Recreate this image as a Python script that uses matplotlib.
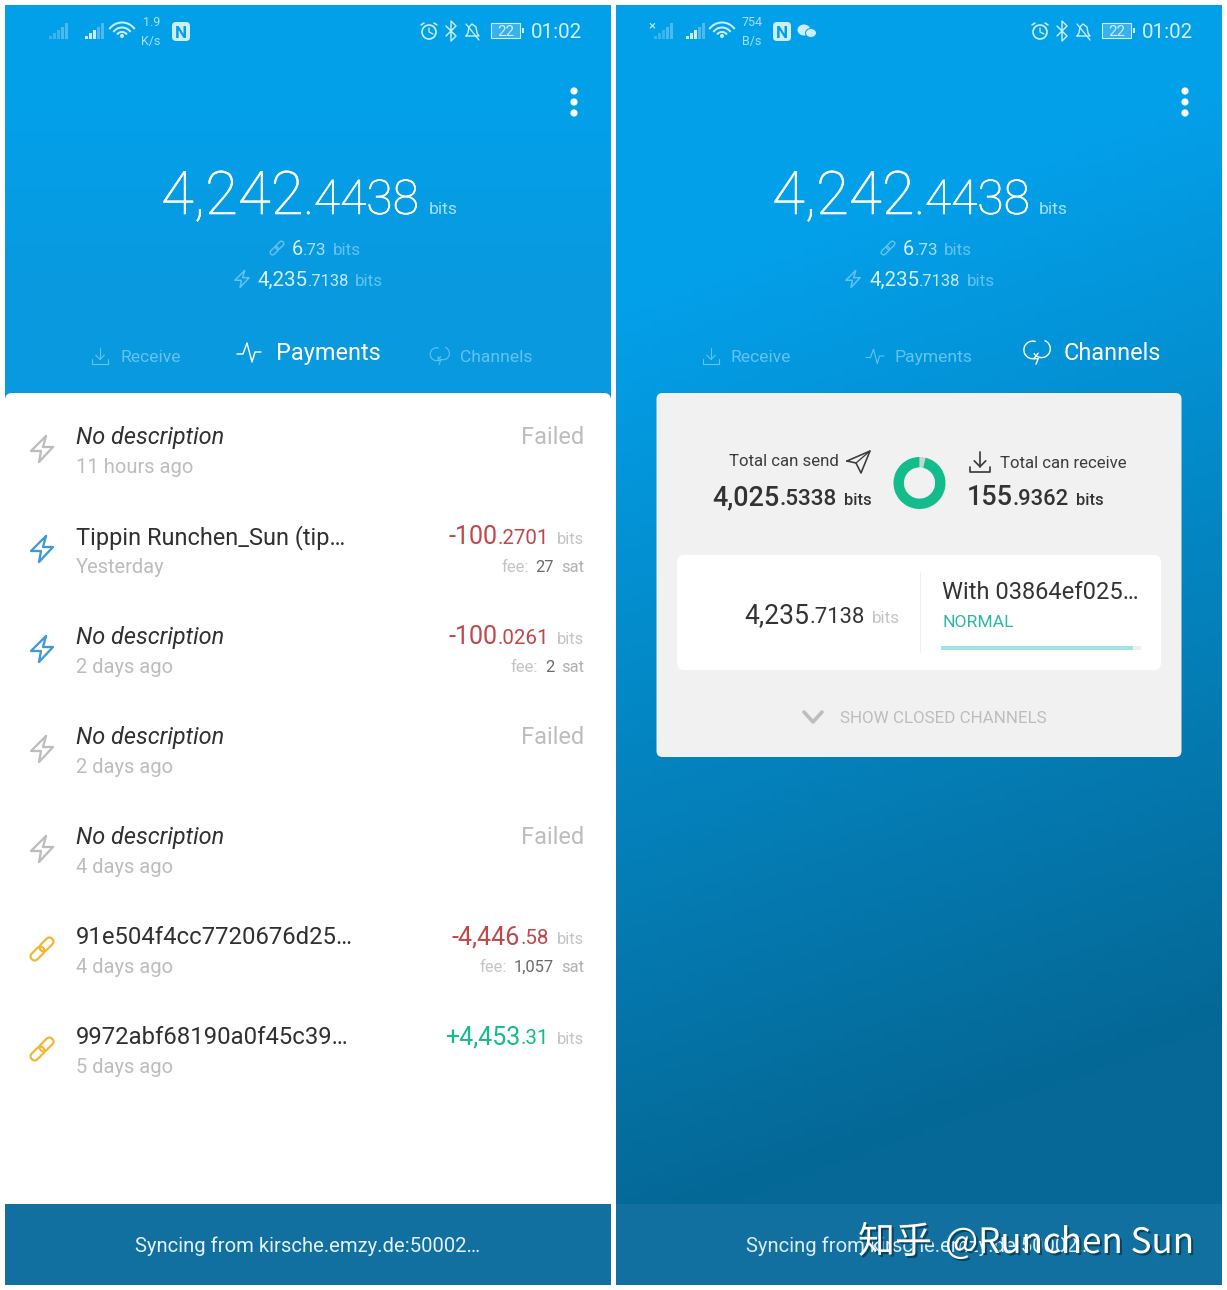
import numpy as np
import matplotlib
matplotlib.use("Agg")
import matplotlib.pyplot as plt
from matplotlib.patches import FancyBboxPatch, Rectangle, Circle, Arc, Polygon, Ellipse
from matplotlib.transforms import Affine2D
import matplotlib.patheffects as pe

plt.rcParams['font.family'] = ['Roboto', 'DejaVu Sans']

# ---- data ----
balance_whole = "4,242"
balance_frac = ".4438"
onchain_whole, onchain_frac = "6", ".73"
lightning_whole, lightning_frac = "4,235", ".7138"
can_send = [4025.5338]
can_receive = [155.9362]
send_whole, send_frac = "4,025", ".5338"
recv_whole, recv_frac = "155", ".9362"
channel_label = "With 03864ef025…"
channel_status = "NORMAL"
channel_fill = [0.96]
tab_labels = ["Receive", "Payments", "Channels"]
tx_titles = ["No description", "Tippin Runchen_Sun (tip…", "No description", "No description",
             "No description", "91e504f4cc7720676d25…", "9972abf68190a0f45c39…"]
tx_italic = [True, False, True, True, True, False, False]
tx_times = ["11 hours ago", "Yesterday", "2 days ago", "2 days ago", "4 days ago", "4 days ago", "5 days ago"]
tx_whole = [None, "-100", "-100", None, None, "-4,446", "+4,453"]
tx_frac = [None, ".2701", ".0261", None, None, ".58", ".31"]
tx_fee = [None, "27", "2", None, None, "1,057", None]
tx_icon = ["failed", "bolt", "bolt", "failed", "failed", "link", "link"]
sync_text = "Syncing from kirsche.emzy.de:50002…"
watermark_cjk = "知乎"
watermark_name = "@Runchen Sun"

W, H = 1227, 1290
fig = plt.figure(figsize=(W / 100, H / 100), dpi=100, facecolor="white")
ax = fig.add_axes([0, 0, 1, 1])
ax.set_xlim(0, W)
ax.set_ylim(H, 0)
ax.axis("off")
renderer = fig.canvas.get_renderer()

PX = 0.72
BLUE = "#03A0EA"
FAINT = "#62C3F0"
MID = "#A6DFF8"
GREY = "#BDBDBD"
DARK = "#303030"
RED = "#C0474A"
GREEN = "#12BC8B"
ORANGE = "#F2B632"
BOLT = "#3E9AD6"


def runs(x, y, parts, ha="left", **common):
    """parts: (text, px size, colour, weight[, gap after])"""
    items = []
    total = 0
    for p in parts:
        t = ax.text(0, y, p[0], fontsize=p[1] * PX, color=p[2], fontweight=p[3], va="baseline",
                    ha="left", **common)
        w = t.get_window_extent(renderer).width
        gap = p[4] if len(p) > 4 else 0
        items.append((t, w, gap))
        total += w + gap
    cur = x - total if ha == "right" else (x - total / 2 if ha == "center" else x)
    for t, w, gap in items:
        t.set_x(cur)
        cur += w + gap
    return [it[0] for it in items]


def line(xs, ys, c, lw=1.5, **k):
    ax.plot(xs, ys, color=c, lw=lw * PX, solid_capstyle="round", solid_joinstyle="round", **k)


def bolt(cx, cy, c, s=1.0, lw=2.2):
    px = np.array([4, -11, -1, -3, 11, 1, 4]) * s + cx
    py = np.array([-13, 2, 2, 13, -2, -2, -13]) * s + cy
    line(px, py, c, lw)


def link(cx, cy, c, s=1.0, lw=2.2):
    for dx in (-1, 1):
        p = FancyBboxPatch((-8 * s, -4 * s), 16 * s, 8 * s, boxstyle=f"round,pad=0,rounding_size={4 * s}",
                           fc="none", ec=c, lw=lw * PX)
        p.set_transform(Affine2D().rotate_deg(-45).translate(cx + dx * 4.5 * s, cy + dx * 4.5 * s * -1) + ax.transData)
        ax.add_patch(p)


def download(cx, cy, c, s=1.0, lw=1.5):
    line([cx, cx], [cy - 9 * s, cy + 4 * s], c, lw)
    line([cx - 5 * s, cx, cx + 5 * s], [cy - 1 * s, cy + 4 * s, cy - 1 * s], c, lw)
    line([cx - 9 * s, cx - 9 * s, cx + 9 * s, cx + 9 * s], [cy + 4 * s, cy + 9 * s, cy + 9 * s, cy + 4 * s], c, lw)


def pulse(cx, cy, c, s=1.0, lw=1.5):
    px = np.array([-12, -6, -2, 3, 6, 12]) * s + cx
    py = np.array([2, 2, -9, 10, 0, 0]) * s + cy
    line(px, py, c, lw)


def cloud(cx, cy, c, s=1.0, lw=1.5):
    ax.add_patch(Arc((cx - 3 * s, cy - 1 * s), 16 * s, 16 * s, theta1=70, theta2=290, ec=c, lw=lw * PX))
    ax.add_patch(Arc((cx + 5 * s, cy - 2 * s), 16 * s, 16 * s, theta1=-70, theta2=150, ec=c, lw=lw * PX))
    line(np.array([2, -2, 2, 0]) * s + cx, np.array([2, 7, 7, 12]) * s + cy, c, lw)


def bars(x, y, c, dim):
    for i, h in enumerate([3, 6, 9, 12, 16]):
        ax.add_patch(Rectangle((x + i * 4, y - h), 2.6, h, fc=c if i < 3 else dim, ec="none"))


def statusbar(dx, right):
    dim = "#4DB9EE"
    lit = "#CDEEFC"
    bars((49 if not right else 654), 39, "#3DB3EC", dim)
    bars((85 if not right else 686), 39, lit, dim)
    # wifi
    wx = 122 if not right else 722
    for d in (31, 21, 12):
        ax.add_patch(Arc((wx, 38), d, d, theta1=215, theta2=325, ec=lit, lw=2.0 * PX))
    ax.add_patch(Circle((wx, 36), 2, fc=lit, ec="none"))
    if right:
        ax.text(741, 26, "754", fontsize=12.5 * PX, color=MID, va="baseline")
        ax.text(742, 45, "B/s", fontsize=12.5 * PX, color=MID, va="baseline")
        ax.text(648, 29, "×", fontsize=13 * PX, color=lit, va="baseline")
    else:
        ax.text(143, 26, "1.9", fontsize=12.5 * PX, color=MID, va="baseline")
        ax.text(141, 45, "K/s", fontsize=12.5 * PX, color=MID, va="baseline")
    nx = (172 if not right else 773)
    ax.add_patch(FancyBboxPatch((nx, 22), 18, 19, boxstyle="round,pad=0,rounding_size=4", fc=lit, ec="none"))
    ax.text(nx + 9, 37.5, "N", fontsize=17 * PX, color=BLUE, ha="center", va="baseline", fontweight="bold")
    if right:
        ax.add_patch(Ellipse((804, 30), 13, 11, fc=lit, ec="none"))
        ax.add_patch(Ellipse((811, 33), 11, 9, fc=lit, ec=BLUE, lw=0.7))
    # alarm
    ax.add_patch(Circle((429 + dx, 32), 7, fc="none", ec=lit, lw=1.7 * PX))
    line([429 + dx, 429 + dx, 433 + dx], [28, 32, 34], lit, 1.3)
    line([421 + dx, 424 + dx], [25, 23], lit, 1.6)
    line([434 + dx, 437 + dx], [23, 25], lit, 1.6)
    # bluetooth
    line(np.array([446, 456, 451, 451, 456, 446]) + dx, [26, 36, 41, 21, 26, 36], lit, 1.4)
    # muted bell
    line(np.array([466, 468, 469, 472, 476, 477, 479, 466]) + dx, [36, 33, 27, 24, 27, 33, 36, 36], lit, 1.4)
    line(np.array([466, 479]) + dx, [24, 40], lit, 1.3)
    # battery
    ax.add_patch(Rectangle((491 + dx, 23), 29, 15, fc="#39B2EC", ec=lit, lw=1.1 * PX))
    ax.add_patch(Rectangle((521.5 + dx, 28), 2.5, 5, fc=lit, ec="none"))
    ax.text(506 + dx, 36, "22", fontsize=15 * PX, color=lit, ha="center", va="baseline", fontweight="normal")
    ax.text(531 + dx, 38, "01:02", fontsize=20.5 * PX, color="#D5F0FC", va="baseline", fontweight="normal")


def header(dx, active):
    statusbar(dx, dx > 0)
    for yy in (91, 102, 113):
        ax.add_patch(Circle((574 + dx, yy), 3.6, fc="white", ec="none"))
    bal = runs(161 + dx, 214, [(balance_whole, 60, "white", "light"), (balance_frac, 48, "white", "light", 9),
                               ("bits", 17.5, MID, "normal")])
    for t in bal[:2]:
        t.set_path_effects([pe.withStroke(linewidth=0.45, foreground="white")])
    link(277 + dx, 248, FAINT, 0.6, 1.4)
    runs(292 + dx, 255, [(onchain_whole, 20, "#D5F0FC", "normal"), (onchain_frac, 17, "#A6DFF8", "normal", 6),
                         ("bits", 17, FAINT, "normal")])
    bolt(242 + dx, 279, FAINT, 0.65, 1.5)
    runs(258 + dx, 286, [(lightning_whole, 20.5, "#D5F0FC", "normal"), (lightning_frac, 16.5, "#C0E8FA", "normal", 6),
                         ("bits", 17, FAINT, "normal")])
    # tabs
    download(100 + dx, 356, FAINT, 0.85, 1.1)
    runs(120 + dx, 362, [(tab_labels[0], 17.5, FAINT, "normal")])
    if active == 1:
        pulse(249 + dx, 352, "white", 1.0, 1.4)
        runs(276 + dx, 360, [(tab_labels[1], 23.5, "white", "normal")])
        cloud(439 + dx, 355, FAINT, 0.8, 1.1)
        runs(460 + dx, 362, [(tab_labels[2], 17.5, FAINT, "normal")])
    else:
        pulse(875, 356, FAINT, 0.75, 1.1)
        runs(895, 362, [(tab_labels[1], 17.5, FAINT, "normal")])
        cloud(1036, 351, "white", 1.1, 1.4)
        runs(1064, 360, [(tab_labels[2], 23.5, "white", "normal")])


# ---- backgrounds ----
ax.imshow(np.array([[3, 160, 234], [9, 153, 222]], dtype=np.uint8).reshape(2, 1, 3), extent=(5, 611, 402, 5),
          aspect="auto", zorder=0, interpolation="bilinear")
yy = np.linspace(0, 1, 200)
xx = np.linspace(0, 1, 60)
X, Y = np.meshgrid(xx, yy)
T = np.clip((Y + 0.18 * X - 0.25) / 0.78, 0, 1)
c0 = np.array([3, 160, 234])
c1 = np.array([5, 104, 150])
img = (c0[None, None, :] * (1 - T[..., None]) + c1[None, None, :] * T[..., None]).astype(np.uint8)
ax.imshow(img, extent=(616, 1222, 1204, 5), aspect="auto", zorder=0, interpolation="bilinear")
ax.set_xlim(0, W)
ax.set_ylim(H, 0)
ax.add_patch(FancyBboxPatch((5, 393), 606, 830, boxstyle="round,pad=0,rounding_size=7", fc="white", ec="none"))
for x0 in (5, 616):
    ax.add_patch(Rectangle((x0, 1204), 606, 81, fc="#11709F", ec="none", zorder=2))

# ---- headers ----
header(0, 1)
header(611, 2)

# ---- payments ----
for i, title in enumerate(tx_titles):
    cy = 437 + i * 100
    ic = 449 + i * 100
    if tx_icon[i] == "failed":
        bolt(42, ic, "#BDBDBD", 1.0, 2.3)
    elif tx_icon[i] == "bolt":
        bolt(42, ic, BOLT, 1.0, 2.3)
    else:
        link(42, ic, ORANGE, 1.0, 2.2)
    ax.text(76, cy + 7, title, fontsize=(23.9 if i >= 5 else 23.5) * PX, color=DARK,
            style="italic" if tx_italic[i] else "normal", va="baseline", zorder=3)
    ax.text(76, cy + 36, tx_times[i], fontsize=20.2 * PX, color=GREY, va="baseline", zorder=3)
    if tx_whole[i] is None:
        ax.text(584, cy + 7, "Failed", fontsize=23.5 * PX, color="#BDBDBD", ha="right", va="baseline", zorder=3)
    else:
        col = GREEN if tx_whole[i].startswith("+") else RED
        runs(584, cy + 7, [(tx_whole[i], 25, col, "normal"), (tx_frac[i], 20.5, col, "normal", 8),
                           ("bits", 16.5, "#C4C4C4", "normal")], ha="right")
        if tx_fee[i] is not None:
            runs(584, cy + 35, [("fee:", 16.5, "#C4C4C4", "normal", 7), (tx_fee[i], 16.5, "#6A6A6A", "normal", 7),
                                ("sat", 16.5, "#B0B0B0", "normal")], ha="right")

# ---- sync bars ----
ax.text(308, 1252, sync_text, fontsize=20.3 * PX, color="#E4F3FA", ha="center", va="baseline", zorder=3)
ax.text(919, 1252, sync_text, fontsize=20.3 * PX, color="#D8EDF7", ha="center", va="baseline", zorder=3)
shadow = [pe.withSimplePatchShadow(offset=(1.5, -1.5), shadow_rgbFace="#0A3F5C", alpha=0.9)]
ax.text(858, 1253, watermark_cjk, fontsize=37 * PX, color="white", va="baseline", zorder=4,
        family=['Noto Sans CJK SC', 'DejaVu Sans'], path_effects=shadow)
ax.text(945, 1253, watermark_name, fontsize=35 * PX, color="white", va="baseline", zorder=4,
        family=['Noto Sans CJK SC', 'DejaVu Sans'], path_effects=shadow)

# ---- channel card ----
ax.add_patch(FancyBboxPatch((656.5, 393), 525, 364, boxstyle="round,pad=0,rounding_size=6", fc="#F1F1F1", ec="none", zorder=1))
ax.add_patch(FancyBboxPatch((677, 555), 484, 115, boxstyle="round,pad=0,rounding_size=7", fc="white", ec="none", zorder=1))
ax.plot([920, 920], [572, 652], color="#F0F0F0", lw=1 * PX, zorder=2)

runs(729, 466, [("Total can send", 16.7, "#3C3C3C", "normal")])
line([847, 870, 861, 856, 847], [461, 451, 473, 463, 461], "#3A3A3A", 1.6, zorder=3)
line([856, 870], [463, 451], "#3A3A3A", 1.3, zorder=3)
runs(872, 505, [(send_whole, 27, "#333333", "medium"), (send_frac, 22.5, "#333333", "medium", 8),
                ("bits", 16.5, "#333333", "medium")], ha="right")
download(980, 462, "#3A3A3A", 1.15, 1.7)
runs(1000, 468, [("Total can receive", 16.7, "#3C3C3C", "normal")])
runs(967, 505, [(recv_whole, 27, "#333333", "medium"), (recv_frac, 22, "#333333", "medium", 7),
                ("bits", 16.5, "#333333", "medium")])

donut = fig.add_axes([893.5 / W, 1 - 509 / H, 52 / W, 52 / H])
donut.pie([can_receive[0], can_send[0]], colors=["#C5D5D0", GREEN], startangle=90, counterclock=False, radius=1.0,
          wedgeprops=dict(width=0.4, linewidth=0))
donut.set_xlim(-1, 1)
donut.set_ylim(-1, 1)
donut.axis("off")

runs(900, 623, [(lightning_whole, 26.5, "#333333", "normal"), (lightning_frac, 22, "#333333", "normal", 7),
                ("bits", 17, "#C4C4C4", "normal")], ha="right")
ax.text(942, 599, channel_label, fontsize=23.6 * PX, color="#333333", va="baseline", zorder=3)
ax.text(942, 627, channel_status, fontsize=17.5 * PX, color="#2DB8A0", va="baseline", zorder=3)
bar_x0, bar_w = 941, 200
ax.add_patch(Rectangle((bar_x0, 646), bar_w, 3.5, fc="#EFEFEF", ec="none", zorder=2))
ax.barh([647.75], [bar_w * channel_fill[0]], left=bar_x0, height=3.5, color="#A3E3E8", zorder=3)
ax.set_xlim(0, W)
ax.set_ylim(H, 0)
line([804, 813, 822], [712, 722, 712], "#BDBDBD", 3.6, zorder=3)
ax.text(840, 723, "SHOW CLOSED CHANNELS", fontsize=17 * PX, color="#BDBDBD", va="baseline", zorder=3)

fig.savefig("out.png", dpi=100, facecolor="white")
